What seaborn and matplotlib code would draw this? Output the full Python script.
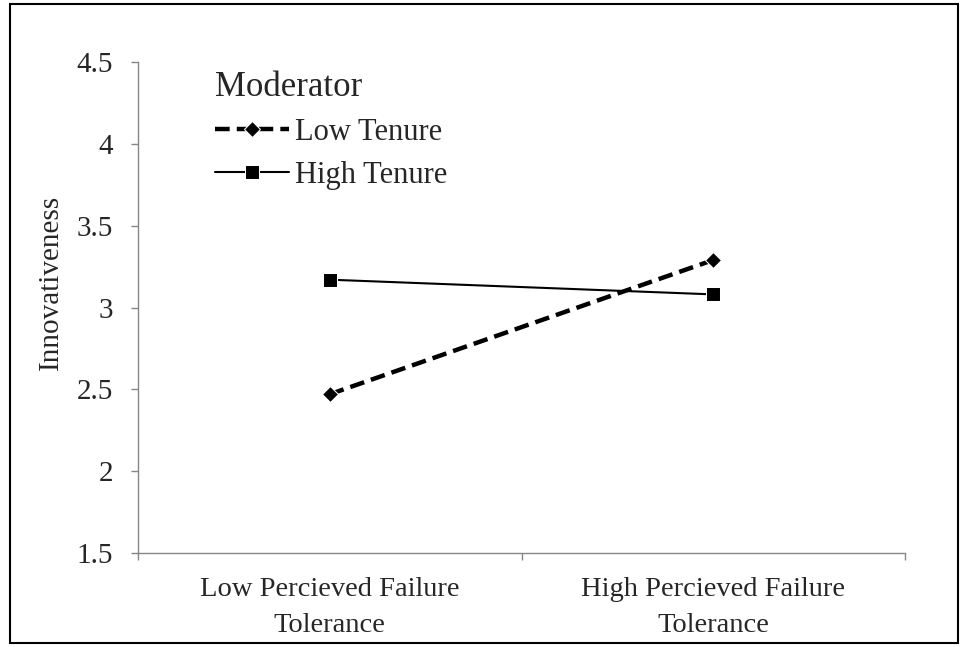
import matplotlib
matplotlib.use("Agg")
import matplotlib.pyplot as plt
import seaborn as sns
import pandas as pd
from matplotlib.patches import Rectangle

categories = ["Low Percieved Failure\nTolerance", "High Percieved Failure\nTolerance"]
low_tenure = [2.47, 3.29]
high_tenure = [3.17, 3.08]
yticks = [1.5, 2, 2.5, 3, 3.5, 4, 4.5]
ytick_labels = ["1.5", "2", "2.5", "3", "3.5", "4", "4.5"]

sns.set_theme(style="white")
plt.rcParams["font.family"] = ["Liberation Serif", "DejaVu Serif"]

df = pd.DataFrame({
    "x": [0, 1, 0, 1],
    "y": low_tenure + high_tenure,
    "Moderator": ["Low Tenure"] * 2 + ["High Tenure"] * 2,
})

fig = plt.figure(figsize=(9.64, 6.47), dpi=100)
ax = fig.add_axes([138 / 964, 94 / 647, 767 / 964, 491 / 647])

sns.lineplot(data=df[df.Moderator == "Low Tenure"], x="x", y="y", ax=ax,
             color="black", linewidth=3.2, linestyle=(0, (3.3, 1.6)), marker="D",
             markersize=8, label="Low Tenure")
sns.lineplot(data=df[df.Moderator == "High Tenure"], x="x", y="y", ax=ax,
             color="black", linewidth=1.5, marker="s", markersize=10.5,
             label="High Tenure")

ax.set_xlim(-0.5, 1.5)
ax.set_ylim(1.5, 4.5)
ax.set_yticks(yticks)
ax.set_yticklabels(ytick_labels, fontsize=21)
ax.set_xticks([0, 1])
ax.set_xticklabels(categories, fontsize=20.5, linespacing=1.6)
ax.set_xticks([-0.5, 0.5, 1.5], minor=True)
ax.tick_params(axis="x", which="major", length=0, pad=17)
ax.tick_params(axis="x", which="minor", length=5, width=1, color="#868686", direction="out", bottom=True)
ax.tick_params(axis="y", length=5, width=1, color="#868686", direction="out", left=True, pad=13)
ax.set_xlabel("")
ax.set_ylabel("Innovativeness", fontsize=21)
ax.yaxis.set_label_coords(-0.097, 0.552)

for s in ["top", "right"]:
    ax.spines[s].set_visible(False)
for s in ["left", "bottom"]:
    ax.spines[s].set_color("#868686")
    ax.spines[s].set_linewidth(1)

leg = ax.legend(title="Moderator", loc="upper left", bbox_to_anchor=(0.093, 0.995),
                frameon=False, fontsize=22, title_fontsize=25, alignment="left",
                handlelength=2.4, handletextpad=0.22, labelspacing=0.46,
                borderaxespad=0, borderpad=0.2)

fig.patches.append(Rectangle((10 / 964, 4 / 647), 948 / 964, 639 / 647,
                             transform=fig.transFigure, fill=False,
                             edgecolor="black", linewidth=1.5))

fig.savefig("out.png", dpi=100)
